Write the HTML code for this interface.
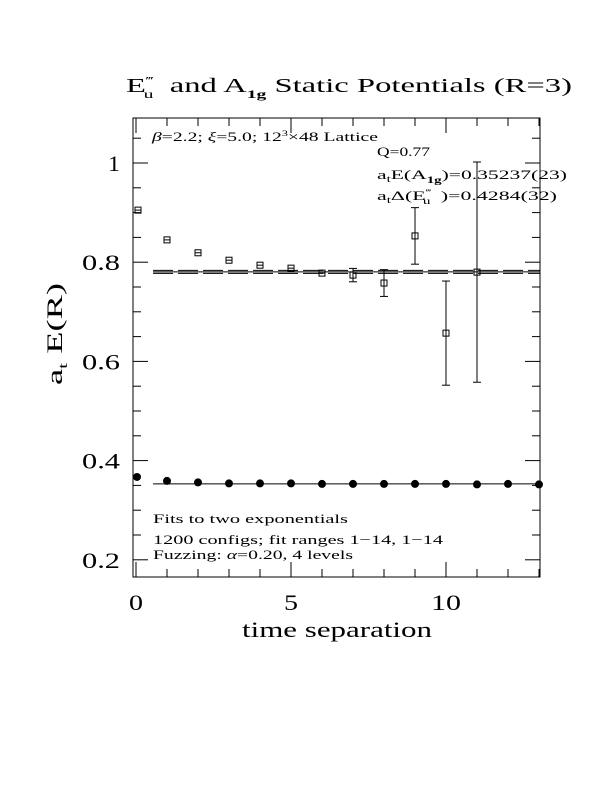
<!DOCTYPE html>
<html><head><meta charset="utf-8"><style>
body{margin:0;background:#fff;}
svg text{font-family:"Liberation Serif",serif;fill:#000;}
</style></head><body>
<svg width="612" height="792" viewBox="0 0 612 792" xmlns="http://www.w3.org/2000/svg">
<g id="root"></g>
</svg>
<script>
const xTickVals=[0,5,10];
const yTickVals=[0.2,0.4,0.6,0.8,1.0];
const yTickLabels=["0.2","0.4","0.6","0.8","1"];
const eTimes=[0,1,2,3,4,5,6,7,8,9,10,11];
const eVals=[0.905,0.845,0.819,0.804,0.794,0.788,0.778,0.774,0.758,0.853,0.657,0.780];
const eErrs=[0.002,0.002,0.002,0.002,0.002,0.002,0.003,0.0135,0.027,0.057,0.105,0.222];
const aTimes=[0,1,2,3,4,5,6,7,8,9,10,11,12,13];
const aVals=[0.367,0.359,0.356,0.354,0.354,0.354,0.353,0.353,0.353,0.353,0.353,0.352,0.353,0.352];
const eFit=0.7804, eFitErr=0.003, aFit=0.3532;

const NS="http://www.w3.org/2000/svg";
const L=133,R=540,T=118,B=577;
const X=v=>136+v*31;
const Y=v=>163-(v-1.0)*496;
const root=document.getElementById('root');
function mk(tag,attrs,parent){const e=document.createElementNS(NS,tag);for(const k in attrs)e.setAttribute(k,attrs[k]);(parent||root).appendChild(e);return e;}
function txt(x,y,s,size,anchor,len){const t=mk('text',{x:x,y:y,'font-size':size,'text-anchor':anchor||'start'});t.innerHTML=s;if(len){t.setAttribute('textLength',len);t.setAttribute('lengthAdjust','spacingAndGlyphs');}return t;}

const frame=mk('rect',{x:L,y:T,width:R-L,height:B-T,fill:'none',stroke:'#000','stroke-width':1});



for(let i=0;i<=13;i++){
  const major=i%5===0;const len=major?15:8;
  const t1=mk('line',{x1:X(i),x2:X(i),y1:B,y2:B-len,stroke:'#000'});
  
  
  const t2=mk('line',{x1:X(i),x2:X(i),y1:T,y2:T+len,stroke:'#000'});
  
  
}
xTickVals.forEach(v=>{const t=txt(X(v),610,String(v),22,'middle',v>=10?30:14);
  
  });
for(let k=0;k<=18;k++){
  const v=0.2+k*0.05; if(v>1.09)break;
  const major=k%4===0;const len=major?15:8;
  const t1=mk('line',{x1:L,x2:L+len,y1:Y(v),y2:Y(v),stroke:'#000'});
  
  
  const t2=mk('line',{x1:R,x2:R-len,y1:Y(v),y2:Y(v),stroke:'#000'});
  
  
}
yTickVals.forEach((v,i)=>{const lab=yTickLabels[i];const t=txt(120,Y(v)+8,lab,22,'end',lab.length>1?38:12);
  
  });

const fx1=X(0.55),fx2=R;
let l=mk('line',{x1:fx1,x2:fx2,y1:Y(eFit),y2:Y(eFit),stroke:'#000'});


[eFit+eFitErr,eFit-eFitErr].forEach(v=>{const d=mk('line',{x1:fx1,x2:fx2,y1:Y(v),y2:Y(v),stroke:'#000','stroke-dasharray':'20,5'});
  
  });
l=mk('line',{x1:fx1,x2:fx2,y1:Y(aFit),y2:Y(aFit),stroke:'#000'});



eTimes.forEach((t,i)=>{
  const g=mk('g',{});
  
  
  const cx=X(t)+(t===0?2:0),cy=Y(eVals[i]);
  const e1=Y(eVals[i]+eErrs[i]),e2=Y(eVals[i]-eErrs[i]);
  if(e2-e1>7){mk('line',{x1:cx,x2:cx,y1:Math.max(e1,T),y2:e2,stroke:'#000'},g);
    mk('line',{x1:cx-4,x2:cx+4,y1:Math.max(e1,T),y2:Math.max(e1,T),stroke:'#000'},g);
    mk('line',{x1:cx-4,x2:cx+4,y1:e2,y2:e2,stroke:'#000'},g);}
  else{mk('line',{x1:cx-3,x2:cx+3,y1:cy,y2:cy,stroke:'#000'},g);}
  mk('rect',{x:cx-3,y:cy-3,width:6,height:6,fill:'#fff','fill-opacity':0,stroke:'#000'},g);
});
aTimes.forEach((t,i)=>{
  const c=mk('circle',{cx:X(t)+(t===0?1:0),cy:Y(aVals[i]),r:4,fill:'#000'});
  
  
});

let t;
t=txt(126,92,'E<tspan font-size="11" dy="-8">\u2034</tspan><tspan font-size="12" dx="-6" dy="14">u</tspan><tspan dy="-6" dx="10">and A</tspan><tspan font-size="12" font-weight="bold" dy="6">1g</tspan><tspan dy="-6"> Static Potentials (R=3)</tspan>',20,'start',446);

t=txt(152,141,'<tspan font-style="italic">β</tspan>=2.2; <tspan font-style="italic">ξ</tspan>=5.0; 12<tspan font-size="8" dy="-5">3</tspan><tspan dy="5">×48 Lattice</tspan>',13,'start',226);

t=txt(377,156,'Q=0.77',13,'start',53);

t=txt(377,179,'a<tspan font-size="9" dy="3">t</tspan><tspan dy="-3">E(A</tspan><tspan font-size="9" font-weight="bold" dy="4">1g</tspan><tspan dy="-4">)=0.35237(23)</tspan>',13,'start',190);

t=txt(377,200,'a<tspan font-size="9" dy="3">t</tspan><tspan dy="-3">Δ(E</tspan><tspan font-size="8" dy="-5">\u2034</tspan><tspan font-size="9" dx="-5" dy="9">u</tspan><tspan dy="-4" dx="3"> )=0.4284(32)</tspan>',13,'start',180);

t=txt(153,523,'Fits to two exponentials',13,'start',195);

t=txt(153,544,'1200 configs; fit ranges 1−14, 1−14',13,'start',290);

t=txt(153,559,'Fuzzing: <tspan font-style="italic">α</tspan>=0.20, 4 levels',13,'start',200);

t=txt(337,637,'time separation',22,'middle',190);

t=txt(0,0,'a<tspan font-size="13" dy="5">t</tspan><tspan dy="-5"> E(R)</tspan>',22,'middle',102);
t.setAttribute('transform','translate(62,334) rotate(-90)');

</script>
</body></html>
